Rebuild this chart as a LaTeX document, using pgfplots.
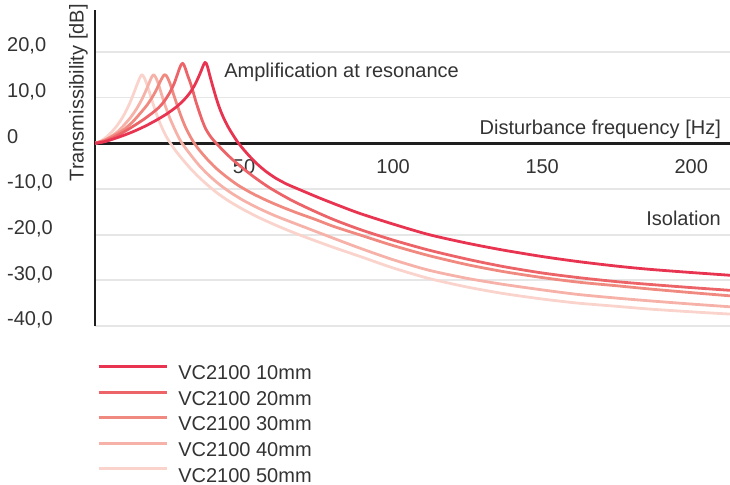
\documentclass[border=0pt]{standalone}
\usepackage{pgfplots}
\pgfplotsset{compat=1.18}
\usepackage{fontspec}
\setmainfont{Liberation Sans}
\definecolor{cA}{HTML}{E83450}
\definecolor{cB}{HTML}{EC6468}
\definecolor{cC}{HTML}{F08A80}
\definecolor{cD}{HTML}{F6B2A8}
\definecolor{cE}{HTML}{FAD4CC}
\definecolor{txt}{HTML}{333333}
\definecolor{axc}{HTML}{1E1E1E}
\definecolor{gridc}{HTML}{E6E6E6}
\begin{document}
\begin{tikzpicture}
\begin{axis}[
  scale only axis, width=635pt, height=316.1pt,
  xmin=0, xmax=213, ymin=-40, ymax=29.2,
  axis x line=middle, axis y line=left,
  axis line style={-, line width=2.6pt, color=axc},
  xtick={50,100,150,200}, xticklabels={50,100,150,200},
  ytick={-40,-30,-20,-10,0,10,20},
  yticklabels={{-40,0},{-30,0},{-20,0},{-10,0},{0},{10,0},{20,0}},
  major tick length=0pt,
  ymajorgrids, grid style={line width=1.8pt, color=gridc},
  tick label style={font=\fontsize{20}{24}\selectfont, text=txt, inner sep=0pt},
  xticklabel style={anchor=base, yshift=-30pt},
  yticklabel style={anchor=base west, xshift=-88pt},
  clip mode=individual,
  reverse legend,
  legend cell align=left,
  legend style={at={(0.00315,-0.1050)}, anchor=north west, draw=none, fill=none,
    inner sep=0pt, row sep=3.5pt, column sep=0pt,
    font=\fontsize{20}{24}\selectfont, text=txt, nodes={inner sep=0pt}},
  legend image code/.code={\draw[#1, line width=2.8pt] (0pt,7pt) -- (68pt,7pt);
    \pgfpathrectangle{\pgfpointorigin}{\pgfpoint{79.7pt}{14.3pt}}\pgfusepath{use as bounding box}},
  every axis plot/.append style={line width=2.8pt, smooth, tension=0.45, line join=round},
]
% 50mm
\addplot[cE] coordinates {(0,0) (2,0.5) (3.9,1.4) (5.5,2.4) (7.2,3.7) (9,5.4) (10.6,7.3) (12,9.3) (13.2,11.3) (14.2,13.0) (15.0,14.3) (15.4,14.8) (15.7,15.0) (16.1,14.8) (16.7,14.1) (17.4,12.9) (18.2,11.3) (19.1,9.4) (20.1,7.4) (21.2,5.4) (22.4,3.5) (23.8,1.6) (25.2,0.1) (27,-1.6) (29.2,-3.4) (31.7,-5.3) (34.5,-7.2) (37.5,-9.0) (41,-10.9) (45,-12.7) (50,-14.6) (55.4,-16.4) (60.5,-17.9) (66,-19.4) (72,-20.9) (80,-22.8) (89,-24.8) (100,-27.3) (112,-29.6) (125,-31.5) (137,-32.9) (150,-34.1) (162,-35.0) (175,-35.7) (186,-36.3) (200,-36.9) (213,-37.4)};
% 40mm
\addplot[cD] coordinates {(0,0) (2.5,0.5) (5,1.3) (7.5,2.5) (9.5,3.8) (12,5.7) (14,7.6) (15.8,9.7) (17.4,12.0) (18.4,13.6) (19.1,14.6) (19.6,15.0) (20,14.8) (20.6,14.1) (21.3,12.9) (22.1,11.2) (23,9.3) (24,7.4) (25.1,5.5) (26.3,3.7) (27.6,1.9) (28.9,0.3) (30.5,-1.2) (32.5,-2.9) (35,-4.9) (38,-6.9) (41.5,-8.9) (45.5,-10.8) (50,-12.6) (55.4,-14.4) (60.5,-15.9) (66,-17.3) (72,-18.8) (80,-20.8) (89,-23.0) (100,-25.5) (112,-27.8) (125,-29.6) (137,-30.9) (150,-32.1) (162,-33.1) (175,-33.9) (186,-34.5) (200,-35.2) (213,-35.8)};
% 30mm
\addplot[cC] coordinates {(0,0) (3,0.6) (6,1.6) (9.5,2.9) (12.5,4.6) (15.1,6.5) (17.5,8.4) (19.6,10.5) (20.8,12.0) (21.8,13.4) (22.6,14.4) (23.1,14.9) (23.5,15.0) (23.9,14.8) (24.5,14.1) (25.2,13.0) (26,11.4) (27,9.4) (28,7.5) (29.1,5.5) (30.3,3.6) (31.6,1.9) (33.2,0.1) (35,-1.5) (37.5,-3.4) (40.5,-5.4) (44,-7.3) (48,-9.2) (52.5,-10.9) (57.5,-12.5) (62.5,-13.9) (68,-15.3) (74,-16.7) (80,-18.2) (89,-20.1) (100,-22.4) (112,-24.6) (125,-26.6) (137,-28.1) (150,-29.4) (162,-30.4) (175,-31.2) (186,-31.9) (200,-32.7) (213,-33.4)};
% 20mm
\addplot[cB] coordinates {(0,0) (3,0.4) (6,1.2) (9.5,2.4) (13,3.8) (16.5,5.3) (20.7,7.4) (23,9.0) (25.1,11.1) (26.5,13.0) (27.5,14.8) (28.3,16.3) (28.9,17.2) (29.4,17.5) (29.8,17.2) (30.4,16.2) (31.1,14.8) (31.9,13.4) (32.8,11.5) (33.8,9.2) (34.8,7.2) (35.9,5.1) (37.1,3.2) (38.5,1.7) (39.7,0.7) (40.8,-0.1) (43,-1.6) (46,-3.5) (50,-5.7) (54,-7.7) (58.7,-9.8) (65.4,-12.3) (72,-14.4) (80,-16.7) (89,-18.9) (100,-21.2) (112,-23.4) (125,-25.4) (137,-27.0) (150,-28.4) (162,-29.4) (175,-30.3) (186,-30.9) (200,-31.6) (213,-32.2)};
% 10mm
\addplot[cA] coordinates {(0,0) (3,0.3) (6,0.9) (9.5,1.7) (13,2.6) (17,3.8) (20.7,5.1) (24,6.4) (27.4,8.0) (30,9.6) (31.9,11.1) (33.5,12.8) (34.8,14.6) (35.7,16.0) (36.3,17.0) (36.7,17.5) (36.9,17.7) (37.3,17.5) (37.8,16.6) (38.4,15.1) (39.1,13.4) (39.8,11.8) (40.6,10.0) (41.5,8.2) (42.5,6.5) (43.6,4.9) (44.8,3.4) (46.2,1.9) (47.8,0.3) (49.5,-1.1) (51.5,-2.6) (54,-4.3) (57,-6.0) (60.5,-7.6) (64.5,-9.0) (68.8,-10.2) (75,-11.9) (82,-13.7) (89,-15.4) (100,-17.7) (112,-20.0) (125,-21.9) (137,-23.4) (150,-24.8) (162,-25.9) (175,-26.9) (186,-27.6) (200,-28.3) (213,-28.9)};
\legend{VC2100 50mm, VC2100 40mm, VC2100 30mm, VC2100 20mm, VC2100 10mm}
\node[anchor=base east, inner sep=0pt, text=txt, font=\fontsize{20}{24}\selectfont] at (axis cs:210.0,1.82) {Disturbance frequency [Hz]};
\node[anchor=base east, inner sep=0pt, text=txt, font=\fontsize{20}{24}\selectfont] at (axis cs:210.0,-18.1) {Isolation};
\node[anchor=base west, inner sep=0pt, text=txt, font=\fontsize{20}{24}\selectfont] at (axis cs:43.3,14.5) {Amplification at resonance};
\node[anchor=base west, rotate=90, inner sep=0pt, text=txt, font=\fontsize{20}{24}\selectfont] at (axis cs:-3.86,-8.40) {Transmissibility [dB]};
\coordinate (bl) at (axis cs:-31.87,-74.77);
\coordinate (tr) at (axis cs:213,31.36);
\end{axis}
\pgfresetboundingbox
\path[use as bounding box] (bl) rectangle (tr);
\end{tikzpicture}
\end{document}
